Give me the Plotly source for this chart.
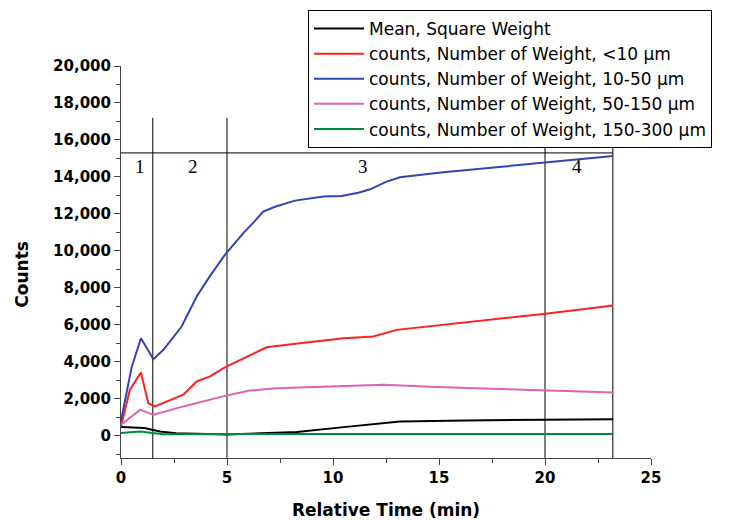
import plotly.graph_objects as go

# ---- data ----
t_blue = [0, 0.5, 0.94, 1.53, 2.0, 2.86, 3.57, 4.2, 4.9, 5.77, 6.3, 6.71, 7.3, 8.21, 9.54, 10.4, 11.2, 11.75, 12.53, 13.16, 15.2, 19.92, 23.22]
v_blue = [800, 3700, 5280, 4140, 4650, 5910, 7530, 8650, 9780, 10960, 11600, 12130, 12400, 12720, 12940, 12970, 13150, 13330, 13750, 13980, 14250, 14780, 15135]

t_red = [0, 0.42, 0.94, 1.29, 1.6, 2.94, 3.57, 4.2, 4.9, 5.77, 6.87, 8.13, 10.5, 11.9, 13.0, 19.92, 23.22]
v_red = [500, 2490, 3420, 1760, 1590, 2220, 2940, 3210, 3700, 4200, 4790, 4970, 5280, 5370, 5730, 6590, 7050]

t_pink = [0, 0.9, 1.53, 2.94, 4.9, 6.08, 7.34, 12.37, 15.2, 19.9, 23.22]
v_pink = [600, 1400, 1135, 1590, 2160, 2450, 2570, 2760, 2630, 2450, 2340]

t_black = [0, 1.1, 1.84, 2.6, 5.0, 8.3, 10.5, 13.16, 16.3, 20.7, 23.22]
v_black = [470, 420, 230, 145, 70, 200, 470, 775, 830, 865, 900]

t_green = [0, 0.9, 2.0, 5.0, 10.5, 11.8, 23.22]
v_green = [150, 230, 90, 90, 60, 100, 100]

series_names = [
    "Mean, Square Weight",
    "counts, Number of Weight, <10 µm",
    "counts, Number of Weight, 10-50 µm",
    "counts, Number of Weight, 50-150 µm",
    "counts, Number of Weight, 150-300 µm",
]
series_colors = ["#000000", "#ff2020", "#2e46b0", "#e060b8", "#008a3c"]

region_bounds = [1.5, 5, 20, 23.2]
region_top = 17200
region_hline = 15300
region_labels = ["1", "2", "3", "4"]
region_label_x = [0.9, 3.4, 11.4, 21.5]
region_label_y = 14550

x_ticks = [0, 5, 10, 15, 20, 25]
y_ticks = list(range(0, 20001, 2000))

# ---- figure ----
# the page body has an 8px margin, so the figure is 8px smaller than the window
FIG_W, FIG_H = 737, 512

fig = go.Figure()
series = [(t_black, v_black), (t_red, v_red), (t_blue, v_blue), (t_pink, v_pink), (t_green, v_green)]
for (tx, vy), name, col in zip(series, series_names, series_colors):
    fig.add_trace(go.Scatter(x=tx, y=vy, mode="lines", name=name,
                             line=dict(color=col, width=2)))

for xb in region_bounds:
    fig.add_shape(type="line", x0=xb, x1=xb, y0=-1200, y1=region_top,
                  line=dict(color="black", width=1), layer="below")
fig.add_shape(type="line", x0=0, x1=region_bounds[-1], y0=region_hline, y1=region_hline,
              line=dict(color="black", width=1), layer="below")

for lab, lx in zip(region_labels, region_label_x):
    fig.add_annotation(x=lx, y=region_label_y, text=lab, showarrow=False,
                       font=dict(family="Liberation Serif", size=19, color="black"))

# y-axis title as a rotated annotation
fig.add_annotation(xref="paper", yref="paper", x=-0.187, y=0.47, text="<b>Counts</b>",
                   textangle=-90, showarrow=False, xanchor="center", yanchor="middle",
                   font=dict(family="DejaVu Sans", size=17, color="black"))

fig.update_layout(
    width=FIG_W, height=FIG_H,
    margin=dict(l=113, r=94, t=58, b=62, autoexpand=False),
    paper_bgcolor="white", plot_bgcolor="white",
    font=dict(family="DejaVu Sans", color="black"),
    legend=dict(xref="container", yref="container", x=300 / FIG_W, y=1 - 2 / FIG_H,
                xanchor="left", yanchor="top",
                bordercolor="black", borderwidth=1, bgcolor="white",
                font=dict(size=17, family="DejaVu Sans"),
                tracegroupgap=0, itemwidth=50),
    showlegend=True,
)
fig.update_xaxes(range=[0, 25], tickvals=x_ticks, showgrid=False, zeroline=False,
                 showline=True, linecolor="#444", linewidth=1,
                 ticks="outside", ticklen=6, tickcolor="#444",
                 minor=dict(ticks="outside", ticklen=4, dtick=2.5, tickcolor="#444"),
                 tickfont=dict(size=15, family="DejaVu Sans", color="black", weight="bold"),
                 title=dict(text="<b>Relative Time (min)</b>", font=dict(size=17), standoff=18))
fig.update_yaxes(range=[-1200, 20000], tickvals=y_ticks, tickformat=",d", showgrid=False,
                 zeroline=False, showline=True, linecolor="#444", linewidth=1,
                 ticks="outside", ticklen=6, tickcolor="#444",
                 minor=dict(ticks="outside", ticklen=4, dtick=1000, tickcolor="#444"),
                 tickfont=dict(size=15, family="DejaVu Sans", color="black", weight="bold"))

fig.write_html("out.html")
